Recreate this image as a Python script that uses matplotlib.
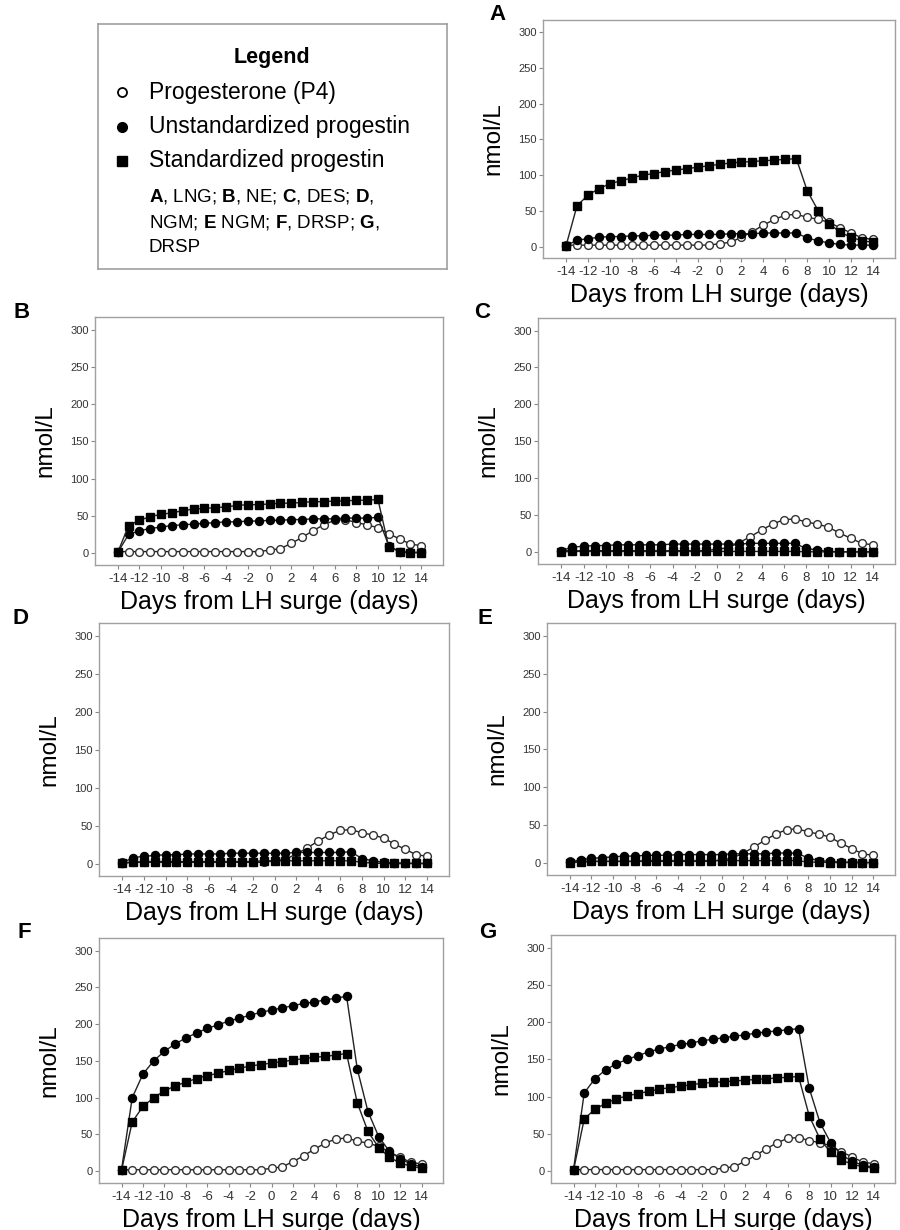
import matplotlib
matplotlib.use("Agg")
import matplotlib.pyplot as plt

plt.rcParams['font.family'] = ['Liberation Sans', 'DejaVu Sans']
plt.rcParams['axes.unicode_minus'] = False
plt.rcParams['mathtext.fontset'] = 'custom'
plt.rcParams['mathtext.rm'] = 'Liberation Sans'
plt.rcParams['mathtext.bf'] = 'Liberation Sans:bold'

W, H = 900, 1230

# days from LH surge
days = list(range(-14, 15))

# progesterone (P4), same in every panel
p4 = [2, 2, 2, 2, 2, 2, 2, 2, 2, 2, 2, 2, 2, 2,
      4, 6, 13, 21, 30, 38, 44, 45, 41, 38, 34, 26, 19, 12, 10]

# A, LNG
lng_unstd = [1, 9, 11, 13, 14, 14, 15, 15, 16, 16, 16, 17, 17, 17,
             17, 18, 18, 18, 19, 19, 19, 19, 12, 8, 5, 3, 2, 2, 2]
lng_std = [1, 57, 72, 81, 88, 92, 96, 100, 102, 105, 107, 109, 111, 113,
           115, 117, 118, 119, 120, 121, 122, 123, 78, 50, 32, 20, 13, 8, 6]

# B, NE
ne_unstd = [1, 25, 30, 33, 35, 37, 38, 39, 40, 41, 42, 42, 43, 43,
            44, 44, 45, 45, 46, 46, 46, 47, 47, 47, 48, 10, 2, 1, 1]
ne_std = [1, 37, 44, 49, 52, 54, 57, 59, 60, 61, 62, 64, 65, 65,
          66, 67, 67, 68, 69, 69, 70, 70, 71, 71, 72, 8, 2, 0.5, 0.5]

# C, DES
des_unstd = [2, 7, 8, 9, 9, 10, 10, 10, 10, 10, 11, 11, 11, 11,
             11, 11, 11, 12, 12, 12, 12, 12, 5, 3, 1, 0.5, 0.5, 0.5, 0.5]
des_std = [0.5, 1, 1, 1, 1, 1, 1, 1, 1, 1, 1, 1, 1, 1,
           1, 1, 1, 1, 1, 1, 1, 1, 0.5, 0.5, 0.5, 0.5, 0.5, 0.5, 0.5]

# D, NGM
ngm_d_unstd = [1, 8, 10, 11, 12, 12, 13, 13, 13, 13, 14, 14, 14, 14,
               14, 14, 15, 15, 15, 15, 15, 16, 7, 4, 2, 1, 1, 0.5, 0.5]
ngm_d_std = [0.5, 2, 3, 3, 3, 3, 3, 3, 3, 3, 3, 3, 3, 4,
             4, 4, 4, 4, 4, 4, 4, 4, 2, 1, 0.5, 0.5, 0.5, 0.5, 0.5]

# E, NGM
ngm_e_unstd = [1, 4, 6, 7, 8, 9, 9, 10, 10, 10, 11, 11, 11, 11,
               11, 12, 12, 12, 12, 13, 13, 13, 6, 3, 2, 1, 1, 0.5, 0.5]
ngm_e_std = [0.5, 1, 2, 2, 2, 2, 2, 3, 3, 3, 3, 3, 3, 3,
             3, 3, 3, 3, 3, 3, 3, 3, 1, 1, 0.5, 0.5, 0.5, 0.5, 0.5]

# F, DRSP
drsp_f_unstd = [2, 100, 132, 150, 163, 173, 181, 188, 194, 199, 204, 208, 212, 216,
                219, 222, 225, 228, 230, 233, 235, 238, 139, 81, 47, 27, 17, 10, 6]
drsp_f_std = [1, 67, 88, 100, 109, 116, 121, 126, 130, 133, 137, 140, 143, 145,
              147, 149, 151, 153, 155, 156, 158, 160, 93, 54, 32, 19, 11, 7, 4]

# G, DRSP
drsp_g_unstd = [2, 105, 124, 136, 144, 150, 155, 160, 164, 167, 170, 172, 175, 177,
                179, 181, 183, 185, 187, 188, 190, 191, 111, 65, 38, 22, 13, 8, 5]
drsp_g_std = [1, 70, 83, 91, 97, 101, 104, 107, 110, 112, 114, 116, 118, 119,
              120, 121, 122, 123, 124, 125, 126, 127, 74, 43, 25, 15, 9, 6, 4]

panel_letters = ['A', 'B', 'C', 'D', 'E', 'F', 'G']
unstd_series = [lng_unstd, ne_unstd, des_unstd, ngm_d_unstd, ngm_e_unstd, drsp_f_unstd, drsp_g_unstd]
std_series = [lng_std, ne_std, des_std, ngm_d_std, ngm_e_std, drsp_f_std, drsp_g_std]

# axes boxes in pixels (left, top, right, bottom) and letter positions
boxes = [(543, 20, 895, 258), (95, 317, 443, 565), (538, 318, 895, 564),
         (99, 623, 449, 876), (547, 623, 895, 875), (99, 938, 443, 1183),
         (551, 935, 895, 1183)]
letter_xy = [(498, 14), (22, 313), (482, 313), (20, 618), (485, 618), (24, 933), (488, 933)]


def px_rect(l, t, r, b):
    return [l / W, 1 - b / H, (r - l) / W, (b - t) / H]


fig = plt.figure(figsize=(W / 100, H / 100), dpi=100)

line_col = '#222222'
for letter, box, lxy, unstd, std in zip(panel_letters, boxes, letter_xy, unstd_series, std_series):
    ax = fig.add_axes(px_rect(*box))
    ax.plot(days, p4, '-o', color=line_col, lw=1.0, ms=5.6, mfc='white', mec='#333333', mew=1.0, zorder=3)
    ax.plot(days, unstd, '-o', color=line_col, lw=1.0, ms=5.8, mfc='black', mec='black', zorder=4)
    ax.plot(days, std, '-s', color=line_col, lw=1.0, ms=5.2, mfc='black', mec='black', zorder=5)
    ax.set_xlim(-16.1, 16.0)
    ax.set_ylim(-16, 317)
    ax.set_xticks(range(-14, 15, 2))
    ax.set_yticks(range(0, 301, 50))
    ax.tick_params(axis='x', length=3, width=0.8, color='#888888', labelsize=9.5, labelcolor='#333333', pad=2.5)
    ax.tick_params(axis='y', length=3, width=0.8, color='#888888', labelsize=8, labelcolor='#333333', pad=1.5)
    for sp in ax.spines.values():
        sp.set_color('#a0a0a0')
        sp.set_linewidth(1.0)
    ax.set_xlabel('Days from LH surge (days)', fontsize=18, labelpad=4)
    ax.set_ylabel('nmol/L', fontsize=17.5, labelpad=10)
    fig.text(lxy[0] / W, 1 - lxy[1] / H, letter, fontsize=16, fontweight='bold',
             ha='center', va='center')

# legend box
lg = fig.add_axes(px_rect(98, 24, 447, 269))
lg.set_xlim(98, 447)
lg.set_ylim(269, 24)
lg.set_xticks([])
lg.set_yticks([])
for sp in lg.spines.values():
    sp.set_color('#a0a0a0')
    sp.set_linewidth(1.2)

lg.text(272, 57, 'Legend', fontsize=15.5, fontweight='bold', ha='center', va='center')
lg.plot([122], [92], 'o', ms=6.5, mfc='white', mec='black', mew=1.3)
lg.plot([122], [127], 'o', ms=7, mfc='black', mec='black')
lg.plot([122], [161], 's', ms=7, mfc='black', mec='black')
entry_labels = ['Progesterone (P4)', 'Unstandardized progestin', 'Standardized progestin']
for y, lab in zip([92, 127, 161], entry_labels):
    lg.text(149, y, lab, fontsize=16.5, ha='left', va='center')

key_lines = [r'$\mathbf{A}$, LNG; $\mathbf{B}$, NE; $\mathbf{C}$, DES; $\mathbf{D}$,',
             r'NGM; $\mathbf{E}$ NGM; $\mathbf{F}$, DRSP; $\mathbf{G}$,',
             'DRSP']
for y, lab in zip([197, 222, 247], key_lines):
    lg.text(149, y, lab, fontsize=13.5, ha='left', va='center')

fig.savefig('out.png', dpi=100)
